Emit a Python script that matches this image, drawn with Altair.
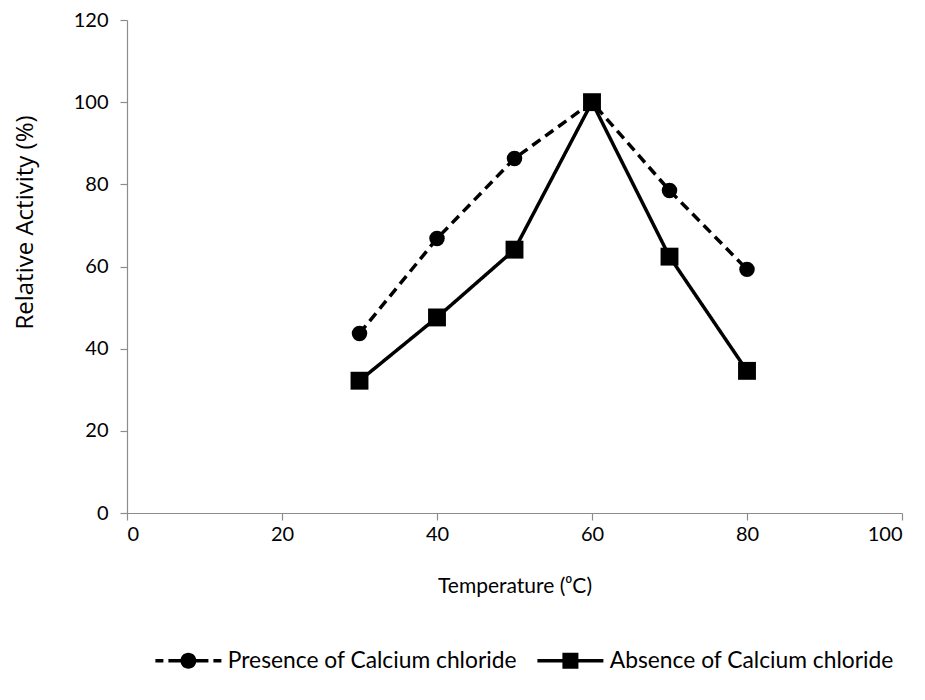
import altair as alt
import pandas as pd

temperature = [30, 40, 50, 60, 70, 80]
presence = [43.7, 66.8, 86.3, 100.0, 78.5, 59.3]
absence = [32.2, 47.6, 64.1, 100.0, 62.4, 34.6]
series_names = ["Presence of Calcium chloride", "Absence of Calcium chloride"]
x_ticks = [0, 20, 40, 60, 80, 100]
y_ticks = [0, 20, 40, 60, 80, 100, 120]

rows = []
for t, v in zip(temperature, presence):
    rows.append({"Temperature": t, "Activity": v, "Series": series_names[0]})
for t, v in zip(temperature, absence):
    rows.append({"Temperature": t, "Activity": v, "Series": series_names[1]})
df = pd.DataFrame(rows)

LABEL_FONT = "Liberation Sans Narrow, Lato, sans-serif"
TITLE_Y_FONT = "Open Sans, DejaVu Sans, sans-serif"

# legend glyphs (unit = sqrt(symbolSize)/2 px)
h = 0.175
def rect(x0, x1, y0=-h, y1=h):
    return f"M{x0},{y0} L{x1},{y0} L{x1},{y1} L{x0},{y1} Z "

circle = "M0.8,0 A0.8,0.8 0 1,1 -0.8,0 A0.8,0.8 0 1,1 0.8,0 Z "
presence_glyph = (rect(-3.3, -2.5) + rect(-2.0, -0.75) + circle
                  + rect(0.75, 2.0) + rect(2.5, 3.3))
absence_glyph = rect(-3.3, -0.8) + rect(0.8, 3.3) + rect(-0.8, 0.8, -0.8, 0.8)

x_enc = alt.X("Temperature:Q",
              scale=alt.Scale(domain=[0, 100], nice=False, zero=False),
              axis=alt.Axis(values=x_ticks, title="Temperature (⁰C)",
                            titlePadding=31, labelPadding=4, grid=False))
y_enc = alt.Y("Activity:Q",
              scale=alt.Scale(domain=[0, 120], nice=False),
              axis=alt.Axis(values=y_ticks, title="Relative Activity (%)",
                            titlePadding=36, titleY=202,
                            labelPadding=12, grid=False))

base = alt.Chart(df)

lines = base.mark_line(color="black", strokeWidth=3.5).encode(
    x=x_enc, y=y_enc,
    strokeDash=alt.StrokeDash("Series:N",
                              scale=alt.Scale(domain=series_names,
                                              range=[[10, 6], [1, 0]]),
                              legend=None),
)

points = base.mark_point(filled=True, color="black", opacity=1, strokeWidth=0).encode(
    x=x_enc, y=y_enc,
    shape=alt.Shape("Series:N",
                    scale=alt.Scale(domain=series_names, range=["circle", "square"]),
                    legend=None),
    size=alt.Size("Series:N",
                  scale=alt.Scale(domain=series_names, range=[240, 320]),
                  legend=None),
)

legend_layer = base.mark_point(filled=True, color="black", opacity=0, strokeWidth=0,
                               size=400).encode(
    x=x_enc, y=y_enc,
    shape=alt.Shape("Series:N",
                    scale=alt.Scale(domain=series_names,
                                    range=[presence_glyph, absence_glyph]),
                    legend=alt.Legend(title=None, orient="none", direction="horizontal",
                                      legendX=50, legendY=629,
                                      labelFont=LABEL_FONT, labelFontSize=22.8,
                                      labelColor="black", labelOffset=28,
                                      labelLimit=500,
                                      columnPadding=20, padding=0,
                                      symbolSize=400, symbolFillColor="black",
                                      symbolStrokeWidth=0, symbolOpacity=1)),
)

chart = alt.layer(lines, points, legend_layer).resolve_scale(
    shape="independent", size="independent"
).properties(
    width=775, height=493,
    background="white",
    autosize=alt.AutoSizeParams(type="none"),
    padding={"left": 119, "top": 12, "right": 15, "bottom": 175},
).configure_view(stroke=None).configure_axis(
    grid=False, domainColor="#8c8c8c", tickColor="#8c8c8c", domainWidth=1.2,
    tickWidth=1.2, tickSize=7, labelFont=LABEL_FONT, labelFontSize=20,
    labelColor="black", titleColor="black", titleFontWeight="normal",
).configure_axisX(
    titleFont=LABEL_FONT, titleFontSize=21,
).configure_axisY(
    titleFont=TITLE_Y_FONT, titleFontSize=24,
)

chart.save("out.html", embed_options={"renderer": "svg", "actions": False})
